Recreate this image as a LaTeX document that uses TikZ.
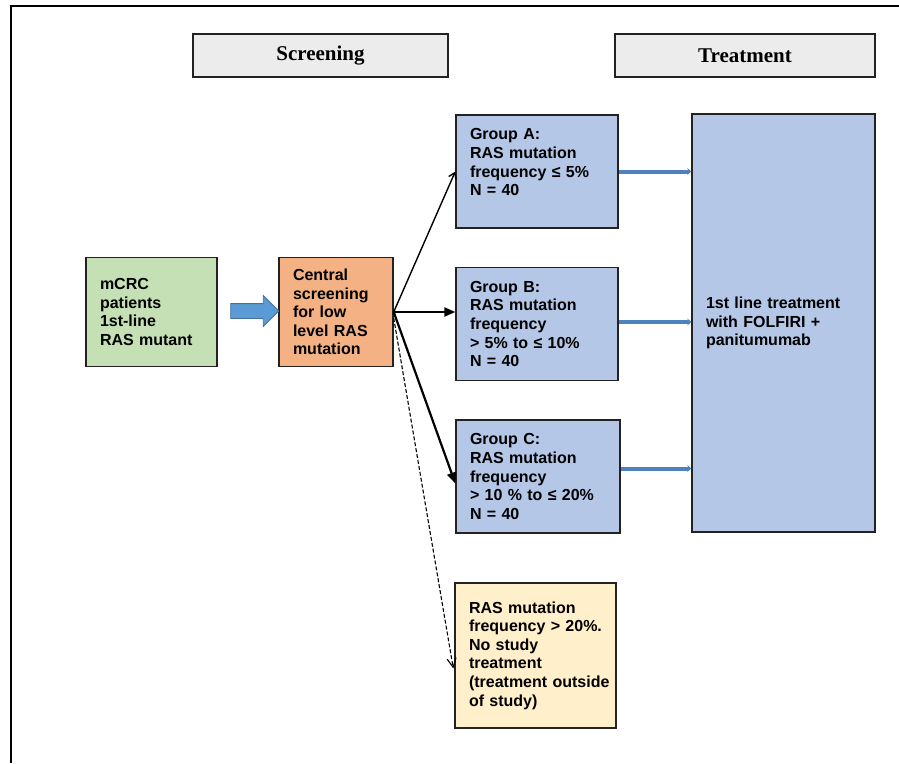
\documentclass[tikz,border=0pt]{standalone}
\usepackage{fontspec}
\setmainfont{Liberation Sans}
\newfontfamily\headfont{Liberation Serif}
\usetikzlibrary{arrows.meta,shapes.arrows,calc}

\definecolor{grpblue}{HTML}{B4C7E7}
\definecolor{pgreen}{HTML}{C5E0B4}
\definecolor{porange}{HTML}{F4B183}
\definecolor{pyellow}{HTML}{FFEFCA}
\definecolor{hgray}{HTML}{ECECEC}
\definecolor{linkblue}{HTML}{4F81BD}
\definecolor{fatblue}{HTML}{5B9BD5}
\definecolor{fatedge}{HTML}{41719C}
\definecolor{boxedge}{HTML}{222222}

\begin{document}
\hyphenpenalty=10000
\exhyphenpenalty=10000
\begin{tikzpicture}[x=1pt,y=-1pt,
  header/.style={draw=boxedge, line width=1.4pt, fill=hgray, minimum width=#1, minimum height=43pt,
    inner sep=0pt, font=\headfont\bfseries\fontsize{21}{24}\selectfont},
  flowbox/.style 2 args={draw=boxedge, line width=1.4pt, minimum width=#1, minimum height=#2,
    text width=#1-28pt, inner xsep=14pt, inner ysep=0pt, align=left,
    font=\bfseries\fontsize{16}{18.6}\selectfont},
  link/.style={line width=4pt, linkblue, -{Stealth[length=4pt,width=7pt]}},
  thinarrow/.style={line width=1.4pt, -{Straight Barb[length=6pt,width=8pt]}},
  boldarrow/.style={line width=2.2pt, -{Triangle[length=11pt,width=9pt]}},
  dasharrow/.style={line width=1.1pt, dash pattern=on 4pt off 2pt, -{Straight Barb[length=9pt,width=9pt]}}
]
\useasboundingbox (0,0) rectangle (899,763);

% outer frame (open to the right and bottom)
\coordinate (frameBL) at (11,763);
\coordinate (frameTL) at (11,6);
\coordinate (frameTR) at (899,6);
\draw[line width=2.5pt] (frameBL) -- (frameTL) -- (frameTR);

% phase headers
\node[header=255pt] (hscreen) at (320.5,55.5) {Screening};
\node[header=260pt] (htreat) at (745,55.5) {Treatment};

% boxes
\node[flowbox={131pt}{109pt}, fill=pgreen] (mcrc) at (151.5,312) {mCRC\\patients\\1st-line\\RAS mutant};
\node[flowbox={114pt}{109pt}, fill=porange] (central) at (336,312) {Central\\screening\\for low\\level RAS\\mutation};

\node[flowbox={162pt}{113pt}, fill=grpblue] (ga) at (537,171.5) {Group A:\\RAS mutation\\frequency ≤ 5\%\\N = 40\\\mbox{}};
\node[flowbox={162pt}{113pt}, fill=grpblue] (gb) at (537,324) {Group B:\\RAS mutation\\frequency\\> 5\% to ≤ 10\%\\N = 40};
\node[flowbox={164pt}{113pt}, fill=grpblue] (gc) at (538,476.5) {Group C:\\RAS mutation\\frequency\\> 10 \% to ≤ 20\%\\N = 40};
\node[flowbox={161pt}{145pt}, fill=pyellow] (excl) at (535.5,655.5) {RAS mutation\\frequency > 20\%.\\No study\\treatment\\(treatment~outside\\of study)};

\node[flowbox={183pt}{418pt}, fill=grpblue] (tx) at (783.5,323) {1st line treatment\\with FOLFIRI +\\panitumumab\\[0pt]};

% fat arrow between the first two boxes
\node[single arrow, draw=fatedge, line width=0.8pt, fill=fatblue, minimum height=48pt,
  minimum width=30pt, inner sep=7pt, single arrow head extend=8pt] (fat) at (251,311) {};

% allocation arrows
\draw[thinarrow] (central.east) -- (ga.west);
\draw[boldarrow] (central.east) -- (gb.west |- central.east);
\draw[boldarrow] (central.east) -- ($(gc.west)+(0,7)$);
\draw[dasharrow] ($(central.east)+(0,6)$) -- ($(excl.west)+(-1,13)$);

% links to the treatment
\draw[link] (ga.east) -- (tx.west |- ga.east);
\draw[link] ($(gb.east)+(0,-2)$) -- ($(tx.west |- gb.east)+(0,-2)$);
\draw[link] ($(gc.east)+(0,-8)$) -- ($(tx.west |- gc.east)+(0,-8)$);
\end{tikzpicture}
\end{document}
